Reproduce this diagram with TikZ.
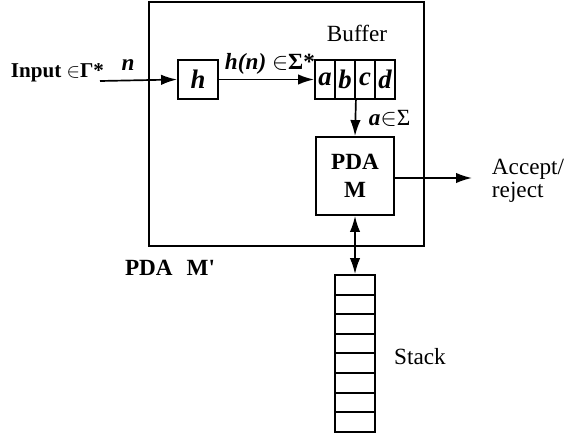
\documentclass[tikz,border=0pt]{standalone}
\usepackage{fontspec}
\setmainfont{Liberation Serif}
\usetikzlibrary{arrows.meta}
\begin{document}
\begin{tikzpicture}[x=0.025cm, y=-0.025cm, font=\fontsize{16.5}{17}\selectfont,
	box/.style={draw, line width=1.3pt, inner sep=0pt},
	cell/.style={box, minimum width=0.5cm, minimum height=0.975cm, font=\fontsize{19}{19}\selectfont\bfseries\itshape},
	slot/.style={box, minimum width=1cm, minimum height=0.49cm},
	arr/.style={line width=1.2pt, -{Latex[length=4mm, width=2.6mm]}},
	darr/.style={line width=1.2pt, {Latex[length=4mm, width=2.6mm]}-{Latex[length=4mm, width=2.6mm]}}]
	\useasboundingbox (0,0) rectangle (576,439);
	% Boxes:
	\node[box, minimum width=6.875cm, minimum height=6.1cm] (mach) at (286.5,124){};
	\node[box, minimum width=1cm, minimum height=0.975cm, font=\fontsize{19}{19}\selectfont\bfseries\itshape] (h) at (198,79.5){h};
	\node[cell] (ba) at (325,79.5){a};
	\node[cell] (bb) at (345,79.5){b};
	\node[cell] (bc) at (365,79.5){c};
	\node[cell] (bd) at (385,79.5){d};
	\node[box, minimum width=1.95cm, minimum height=1.95cm, align=center, font=\fontsize{16.5}{20}\selectfont\bfseries] (pda) at (355,176){PDA\\M};
	\foreach \i in {0,...,7}
		\node[slot] (s\i) at (355,284.8+19.6*\i){};
	% Labels:
	\node[anchor=east, font=\fontsize{15}{16}\selectfont\bfseries] (inp) at (109,73){Input $\in$Γ*};
	\node[font=\fontsize{16.5}{17}\selectfont\bfseries\itshape] (lbn) at (128,65){n};
	\node[font=\fontsize{16.5}{17}\selectfont\bfseries] (lbhn) at (270,64){\textit{h(n)} $\in$Σ*};
	\node[anchor=west] (lba) at (364,118){\textbf{\textit{a}}$\in$Σ};
	\node (buf) at (357,33){Buffer};
	\node[anchor=west, align=left, font=\fontsize{16.5}{16}\selectfont] (acc) at (487,181){Accept/\\reject};
	\node[font=\fontsize{16.5}{17}\selectfont\bfseries] (mlab) at (170,268){PDA\hspace{0.6em}M\textquotesingle};
	\node (stk) at (420,357){Stack};
	% Wires:
	\coordinate (in) at (100,81);
	\coordinate (out) at (472,178);
	\draw[arr] (in) -- (h.west);
	\draw[arr] (h.east) -- (ba.west);
	\draw[arr] (bb.south east) -- (pda.north);
	\draw[arr] (pda.east |- out) -- (out);
	\draw[darr] (pda.south) -- (s0.north);
\end{tikzpicture}
\end{document}
